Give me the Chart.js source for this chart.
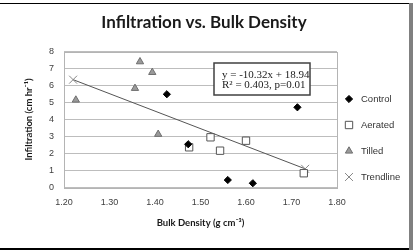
<!DOCTYPE html>
<html>
<head>
<meta charset="utf-8">
<script src="https://cdn.jsdelivr.net/npm/chart.js@4/dist/chart.umd.min.js"></script>
<style>
  html, body { margin: 0; padding: 0; background: #fff; }
  #wrap { width: 413px; height: 252px; position: relative; }
</style>
</head>
<body>
<div id="wrap"><canvas id="chart" width="413" height="252"></canvas></div>
<script>
// bulk density (g cm-3) / infiltration (cm hr-1)
const controlX = [1.426, 1.473, 1.713, 1.560, 1.615];
const controlY = [5.49, 2.54, 4.72, 0.43, 0.24];
const aeratedX = [1.475, 1.522, 1.543, 1.600, 1.727];
const aeratedY = [2.36, 2.95, 2.16, 2.75, 0.83];
const tilledX = [1.226, 1.356, 1.367, 1.394, 1.407];
const tilledY = [5.15, 5.84, 7.41, 6.78, 3.13];
const trendX = [1.22, 1.73];
const trendY = [6.35, 1.09];
const xTicks = [1.2, 1.3, 1.4, 1.5, 1.6, 1.7, 1.8];
const titleText = 'Infiltration vs. Bulk Density';
const eqLines = ['y = -10.32x + 18.94', 'R\u00b2 = 0.403, p=0.01'];

const pts = (xs, ys) => xs.map((x, i) => ({ x: x, y: ys[i] }));

// frame round the picture + title (centred on the whole picture, not the plot)
const framePlugin = {
  id: 'frame',
  beforeDraw(chart) {
    const ctx = chart.ctx;
    ctx.save();
    ctx.fillStyle = '#fff';
    ctx.fillRect(0, 0, chart.width, chart.height);
    ctx.fillStyle = '#000';
    ctx.fillRect(0, 3, 410, 1);
    ctx.fillRect(0, 248, 410, 2);
    ctx.fillStyle = '#808080';
    ctx.fillRect(409, 3, 4, 247);
    ctx.fillStyle = '#1a1a1a';
    ctx.font = 'bold 17px Lato';
    ctx.textAlign = 'center';
    ctx.textBaseline = 'middle';
    ctx.fillText(titleText, 204, 23);
    ctx.restore();
  },
  beforeDatasetsDraw(chart) {
    const a = chart.chartArea;
    const ctx = chart.ctx;
    ctx.save();
    ctx.strokeStyle = '#b4b4b4';
    ctx.lineWidth = 1;
    ctx.strokeRect(Math.round(a.left) + 0.5, Math.round(a.top) + 0.5, Math.round(a.right - a.left), Math.round(a.bottom - a.top));
    ctx.restore();
  }
};

// equation box
const eqPlugin = {
  id: 'eqbox',
  afterDraw(chart) {
    const ctx = chart.ctx;
    ctx.save();
    ctx.fillStyle = '#fff';
    ctx.fillRect(214, 63, 96, 32);
    ctx.strokeStyle = '#404040';
    ctx.lineWidth = 1.5;
    ctx.strokeRect(214, 63, 96, 32);
    ctx.fillStyle = '#222';
    ctx.font = '11px "Liberation Serif"';
    ctx.textBaseline = 'middle';
    ctx.fillText(eqLines[0], 222, 75);
    ctx.fillText(eqLines[1], 222, 85.5);
    ctx.restore();
  }
};

// legend on the right
const legendPlugin = {
  id: 'sideLegend',
  afterDraw(chart) {
    const ctx = chart.ctx;
    ctx.save();
    ctx.font = '9.5px "Liberation Sans"';
    ctx.textBaseline = 'middle';
    chart.data.datasets.forEach((ds, i) => {
      const y = 99 + i * 26;
      ctx.fillStyle = ds.pointBackgroundColor;
      ctx.strokeStyle = ds.pointBorderColor;
      ctx.lineWidth = ds.pointBorderWidth;
      Chart.helpers.drawPoint(ctx, {
        pointStyle: ds.pointStyle,
        radius: ds.pointRadius,
        rotation: 0,
        borderWidth: ds.pointBorderWidth
      }, 349, y);
      ctx.fillStyle = '#333';
      ctx.fillText(ds.label, 361, y);
    });
    ctx.restore();
  }
};

new Chart(document.getElementById('chart'), {
  type: 'scatter',
  data: {
    datasets: [
      { label: 'Control', data: pts(controlX, controlY), pointStyle: 'rectRot', pointRadius: 3.6,
        pointBackgroundColor: '#000', pointBorderColor: '#000', pointBorderWidth: 1 },
      { label: 'Aerated', data: pts(aeratedX, aeratedY), pointStyle: 'rect', pointRadius: 5.2,
        pointBackgroundColor: '#fff', pointBorderColor: '#555', pointBorderWidth: 1 },
      { label: 'Tilled', data: pts(tilledX, tilledY), pointStyle: 'triangle', pointRadius: 4.2,
        pointBackgroundColor: '#9a9a9a', pointBorderColor: '#6e6e6e', pointBorderWidth: 1 },
      { label: 'Trendline', data: pts(trendX, trendY), showLine: true, borderColor: '#555', borderWidth: 1,
        pointStyle: 'crossRot', pointRadius: 5.6, pointBackgroundColor: '#888', pointBorderColor: '#888', pointBorderWidth: 1 }
    ]
  },
  options: {
    responsive: false,
    animation: false,
    layout: { padding: { left: 0, right: 76, top: 51.7, bottom: 0 } },
    plugins: {
      legend: { display: false },
      tooltip: { enabled: false },
      title: { display: false }
    },
    scales: {
      x: {
        type: 'linear',
        min: 1.2, max: 1.8,
        afterBuildTicks: s => { s.ticks = xTicks.map(v => ({ value: v })); },
        afterFit: s => { s.height = 64.7; },
        grid: { display: false, drawTicks: false },
        border: { display: false },
        ticks: { padding: 10, color: '#404040', font: { family: 'Liberation Sans', size: 9 },
          callback: v => v.toFixed(2) },
        title: { display: true, text: 'Bulk Density (g cm\u207b\u00b3)', color: '#1a1a1a',
          font: { family: 'Lato', size: 9.5, weight: 'bold' }, padding: { top: 0, bottom: 23 } }
      },
      y: {
        min: 0, max: 8,
        afterFit: s => { s.width = 64; },
        grid: { color: '#bdbdbd', lineWidth: 1, drawTicks: false },
        border: { display: false },
        ticks: { stepSize: 1, padding: 10, color: '#404040', font: { family: 'Liberation Sans', size: 9 } },
        title: { display: true, text: 'Infiltration (cm hr\u207b\u00b9)', color: '#1a1a1a',
          font: { family: 'Lato', size: 9.5, weight: 'bold' }, padding: { top: 23, bottom: 0 } }
      }
    }
  },
  plugins: [framePlugin, eqPlugin, legendPlugin]
});
</script>
</body>
</html>
